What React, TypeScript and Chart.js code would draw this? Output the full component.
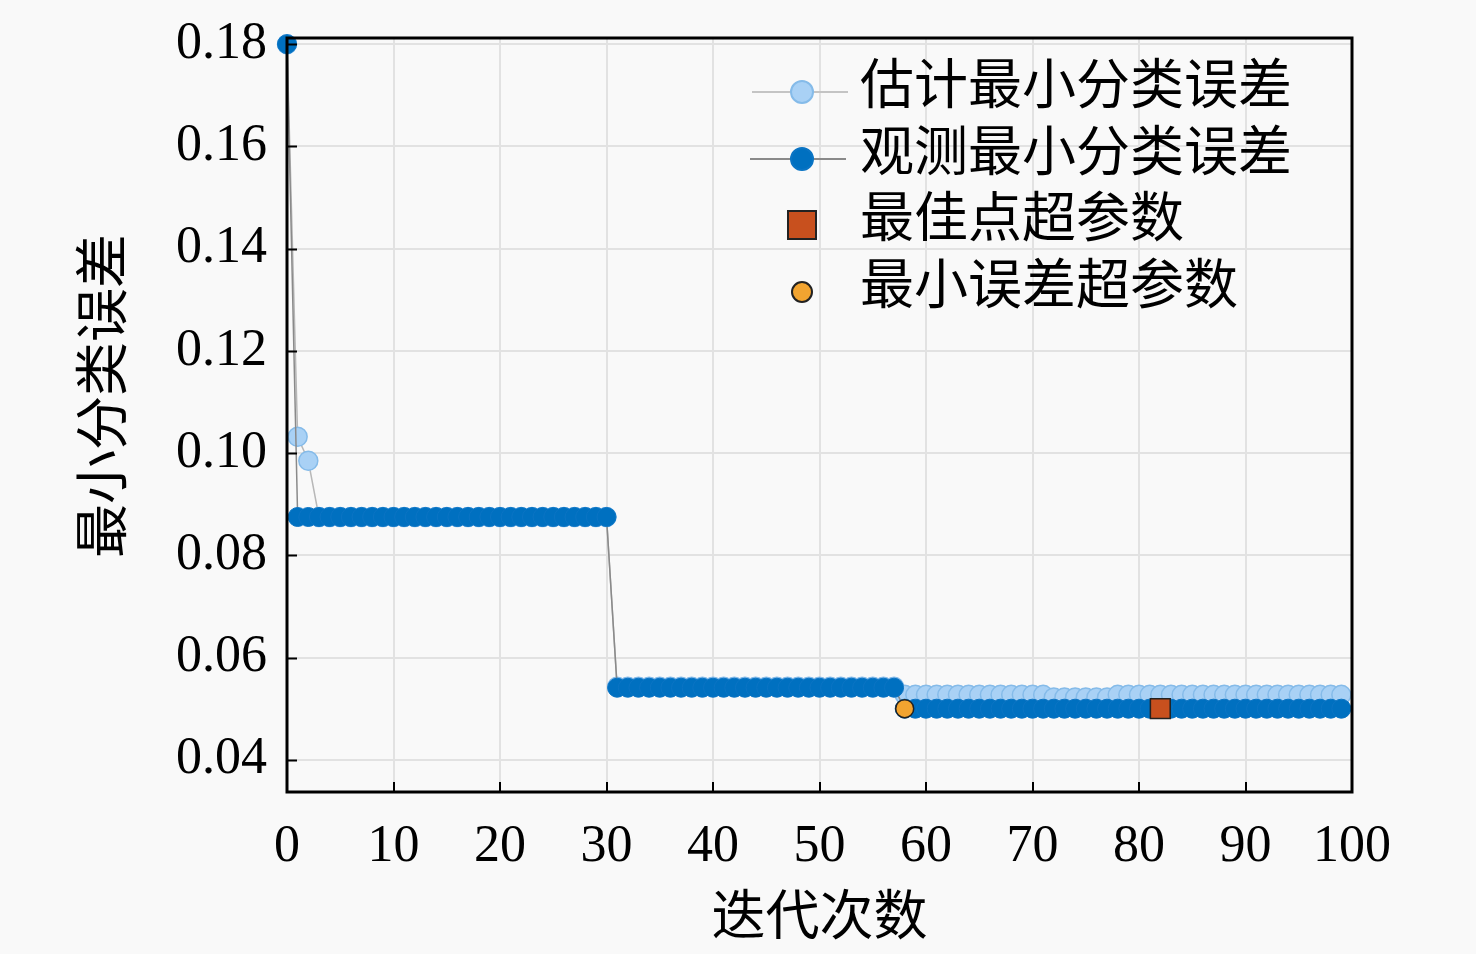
import { useEffect, useRef } from 'react';
import Chart from 'chart.js/auto';

// iteration index of each point
const iterations = [
  0, 1, 2, 3, 4, 5, 6, 7, 8, 9, 10, 11, 12, 13, 14, 15, 16, 17, 18, 19,
  20, 21, 22, 23, 24, 25, 26, 27, 28, 29, 30, 31, 32, 33, 34, 35, 36, 37, 38, 39,
  40, 41, 42, 43, 44, 45, 46, 47, 48, 49, 50, 51, 52, 53, 54, 55, 56, 57, 58, 59,
  60, 61, 62, 63, 64, 65, 66, 67, 68, 69, 70, 71, 72, 73, 74, 75, 76, 77, 78, 79,
  80, 81, 82, 83, 84, 85, 86, 87, 88, 89, 90, 91, 92, 93, 94, 95, 96, 97, 98, 99,
];

const estimatedError = [
  0.18, 0.1032, 0.0985, 0.0875, 0.0875, 0.0875, 0.0875, 0.0875, 0.0875, 0.0875,
  0.0875, 0.0875, 0.0875, 0.0875, 0.0875, 0.0875, 0.0875, 0.0875, 0.0875, 0.0875,
  0.0875, 0.0875, 0.0875, 0.0875, 0.0875, 0.0875, 0.0875, 0.0875, 0.0875, 0.0875,
  0.0875, 0.0543, 0.0543, 0.0543, 0.0543, 0.0543, 0.0543, 0.0543, 0.0543, 0.0543,
  0.0543, 0.0543, 0.0543, 0.0543, 0.0543, 0.0543, 0.0543, 0.0543, 0.0543, 0.0543,
  0.0543, 0.0543, 0.0543, 0.0543, 0.0543, 0.0543, 0.0543, 0.0543, 0.0527, 0.0527,
  0.0527, 0.0527, 0.0527, 0.0527, 0.0527, 0.0527, 0.0527, 0.0527, 0.0527, 0.0527,
  0.0527, 0.0527, 0.0522, 0.0522, 0.0522, 0.0522, 0.0522, 0.0522, 0.0527, 0.0527,
  0.0527, 0.0527, 0.0527, 0.0527, 0.0527, 0.0527, 0.0527, 0.0527, 0.0527, 0.0527,
  0.0527, 0.0527, 0.0527, 0.0527, 0.0527, 0.0527, 0.0527, 0.0527, 0.0527, 0.0527,
];

const observedError = [
  0.18, 0.0875, 0.0875, 0.0875, 0.0875, 0.0875, 0.0875, 0.0875, 0.0875, 0.0875,
  0.0875, 0.0875, 0.0875, 0.0875, 0.0875, 0.0875, 0.0875, 0.0875, 0.0875, 0.0875,
  0.0875, 0.0875, 0.0875, 0.0875, 0.0875, 0.0875, 0.0875, 0.0875, 0.0875, 0.0875,
  0.0875, 0.0541, 0.0541, 0.0541, 0.0541, 0.0541, 0.0541, 0.0541, 0.0541, 0.0541,
  0.0541, 0.0541, 0.0541, 0.0541, 0.0541, 0.0541, 0.0541, 0.0541, 0.0541, 0.0541,
  0.0541, 0.0541, 0.0541, 0.0541, 0.0541, 0.0541, 0.0541, 0.0541, 0.05, 0.05,
  0.05, 0.05, 0.05, 0.05, 0.05, 0.05, 0.05, 0.05, 0.05, 0.05,
  0.05, 0.05, 0.05, 0.05, 0.05, 0.05, 0.05, 0.05, 0.05, 0.05,
  0.05, 0.05, 0.05, 0.05, 0.05, 0.05, 0.05, 0.05, 0.05, 0.05,
  0.05, 0.05, 0.05, 0.05, 0.05, 0.05, 0.05, 0.05, 0.05, 0.05,
];

const bestPoint = { x: 82, y: 0.05 };
const minErrorPoint = { x: 58, y: 0.05 };

const yTicks = [0.04, 0.06, 0.08, 0.1, 0.12, 0.14, 0.16, 0.18];
const xTicks = [0, 10, 20, 30, 40, 50, 60, 70, 80, 90, 100];

const legendLabels = ['估计最小分类误差', '观测最小分类误差', '最佳点超参数', '最小误差超参数'];
const xTitle = '迭代次数';
const yTitle = '最小分类误差';

const FONT = '"Liberation Serif", "Noto Sans CJK SC", serif';

const ESTIMATED_FILL = '#a9d1f5';
const ESTIMATED_BORDER = '#85bbe9';
const OBSERVED_FILL = '#0070c0';
const OBSERVED_BORDER = '#0a74c4';
const BEST_FILL = '#c8501e';
const MIN_FILL = '#f2a430';

const framePlugin = {
  id: 'frame',
  afterDraw(chart: any) {
    const { ctx, chartArea } = chart;
    const { left, right, top, bottom } = chartArea;
    const xs = chart.scales.x;
    const ys = chart.scales.y;
    ctx.save();
    ctx.strokeStyle = '#000';
    ctx.lineWidth = 2;
    // inward ticks
    ctx.beginPath();
    yTicks.forEach((v) => {
      const py = Math.round(ys.getPixelForValue(v)) + 0.5;
      ctx.moveTo(left, py);
      ctx.lineTo(left + 10, py);
    });
    xTicks.forEach((v) => {
      const px = Math.round(xs.getPixelForValue(v));
      ctx.moveTo(px, bottom);
      ctx.lineTo(px, bottom - 10);
    });
    ctx.stroke();
    ctx.lineWidth = 3;
    ctx.strokeRect(left, top, right - left, bottom - top);

    // y title
    ctx.save();
    ctx.translate(108, 396);
    ctx.rotate(-Math.PI / 2);
    ctx.fillStyle = '#000';
    ctx.font = `54px ${FONT}`;
    ctx.textAlign = 'center';
    ctx.textBaseline = 'middle';
    ctx.fillText(yTitle, 0, 0);
    ctx.restore();

    // legend
    const lx = 802;
    const rows = [92, 159, 225, 292];
    ctx.lineWidth = 2;
    ctx.strokeStyle = '#c4c4c4';
    ctx.beginPath();
    ctx.moveTo(752, rows[0]);
    ctx.lineTo(848, rows[0]);
    ctx.stroke();
    ctx.fillStyle = ESTIMATED_FILL;
    ctx.strokeStyle = ESTIMATED_BORDER;
    ctx.beginPath();
    ctx.arc(lx, rows[0], 11, 0, Math.PI * 2);
    ctx.fill();
    ctx.stroke();

    ctx.strokeStyle = '#8a8a8a';
    ctx.beginPath();
    ctx.moveTo(750, rows[1]);
    ctx.lineTo(846, rows[1]);
    ctx.stroke();
    ctx.fillStyle = OBSERVED_FILL;
    ctx.strokeStyle = OBSERVED_BORDER;
    ctx.beginPath();
    ctx.arc(lx, rows[1], 11, 0, Math.PI * 2);
    ctx.fill();
    ctx.stroke();

    ctx.fillStyle = BEST_FILL;
    ctx.strokeStyle = '#222';
    ctx.fillRect(lx - 14, rows[2] - 14, 28, 28);
    ctx.strokeRect(lx - 14, rows[2] - 14, 28, 28);

    ctx.fillStyle = MIN_FILL;
    ctx.beginPath();
    ctx.arc(lx, rows[3], 10, 0, Math.PI * 2);
    ctx.fill();
    ctx.stroke();

    ctx.fillStyle = '#000';
    ctx.font = `54px ${FONT}`;
    ctx.textBaseline = 'middle';
    ctx.textAlign = 'left';
    legendLabels.forEach((t, i) => ctx.fillText(t, 860, rows[i] - 2));
    ctx.restore();
  },
};

export default function App() {
  const canvasRef = useRef<HTMLCanvasElement>(null);
  const chartRef = useRef<Chart | null>(null);

  useEffect(() => {
    if (!canvasRef.current) return;
    if (chartRef.current) chartRef.current.destroy();

    chartRef.current = new Chart(canvasRef.current, {
      type: 'scatter',
      data: {
        datasets: [
          {
            label: legendLabels[3],
            data: [minErrorPoint],
            pointStyle: 'circle',
            pointRadius: 9,
            backgroundColor: MIN_FILL,
            borderColor: '#222',
            borderWidth: 1.5,
            order: 0,
          },
          {
            label: legendLabels[2],
            data: [bestPoint],
            pointStyle: 'rect',
            pointRadius: 14,
            backgroundColor: BEST_FILL,
            borderColor: '#222',
            borderWidth: 1.5,
            order: 1,
          },
          {
            label: legendLabels[1],
            data: iterations.map((x, i) => ({ x, y: observedError[i] })),
            showLine: true,
            borderColor: '#8a8a8a',
            borderWidth: 1.5,
            pointRadius: 9.5,
            pointBackgroundColor: OBSERVED_FILL,
            pointBorderColor: OBSERVED_BORDER,
            pointBorderWidth: 1,
            order: 2,
          },
          {
            label: legendLabels[0],
            data: iterations.map((x, i) => ({ x, y: estimatedError[i] })),
            showLine: true,
            borderColor: '#b8b8b8',
            borderWidth: 1.5,
            pointRadius: 9.5,
            pointBackgroundColor: ESTIMATED_FILL,
            pointBorderColor: ESTIMATED_BORDER,
            pointBorderWidth: 1.5,
            order: 3,
          },
        ],
      },
      options: {
        animation: false,
        responsive: true,
        maintainAspectRatio: false,
        clip: false,
        layout: { padding: { top: 38, right: 124, left: 0, bottom: 0 } },
        plugins: {
          legend: { display: false },
          tooltip: { enabled: false },
        },
        scales: {
          x: {
            type: 'linear',
            min: 0,
            max: 100,
            ticks: {
              stepSize: 10,
              color: '#000',
              font: { family: FONT, size: 52 },
              padding: 24,
              maxRotation: 0,
            },
            grid: { color: '#e2e2e2', lineWidth: 2, drawTicks: false },
            border: { display: false },
            title: {
              display: true,
              text: xTitle,
              color: '#000',
              font: { family: FONT, size: 54 },
              padding: { top: 0, bottom: 1 },
            },
            afterFit: (scale: any) => {
              scale.height = 162;
              scale.paddingLeft = 0;
              scale.paddingRight = 0;
            },
          },
          y: {
            type: 'linear',
            min: 0.0337,
            max: 0.1812,
            afterBuildTicks: (scale: any) => {
              scale.ticks = yTicks.map((v) => ({ value: v }));
            },
            ticks: {
              color: '#000',
              font: { family: FONT, size: 52 },
              padding: 20,
              callback: (v: any) => Number(v).toFixed(2),
            },
            grid: { color: '#e2e2e2', lineWidth: 2, drawTicks: false },
            border: { display: false },
            title: { display: false },
            afterFit: (scale: any) => {
              scale.width = 287;
              scale.paddingTop = 0;
              scale.paddingBottom = 0;
            },
          },
        },
      },
      plugins: [framePlugin],
    } as any);

    return () => {
      if (chartRef.current) {
        chartRef.current.destroy();
        chartRef.current = null;
      }
    };
  }, []);

  return (
    <div
      style={{
        position: 'fixed',
        left: 0,
        top: 0,
        width: 1476,
        height: 954,
        background: '#f9f9f9',
      }}
    >
      <canvas ref={canvasRef} />
    </div>
  );
}
